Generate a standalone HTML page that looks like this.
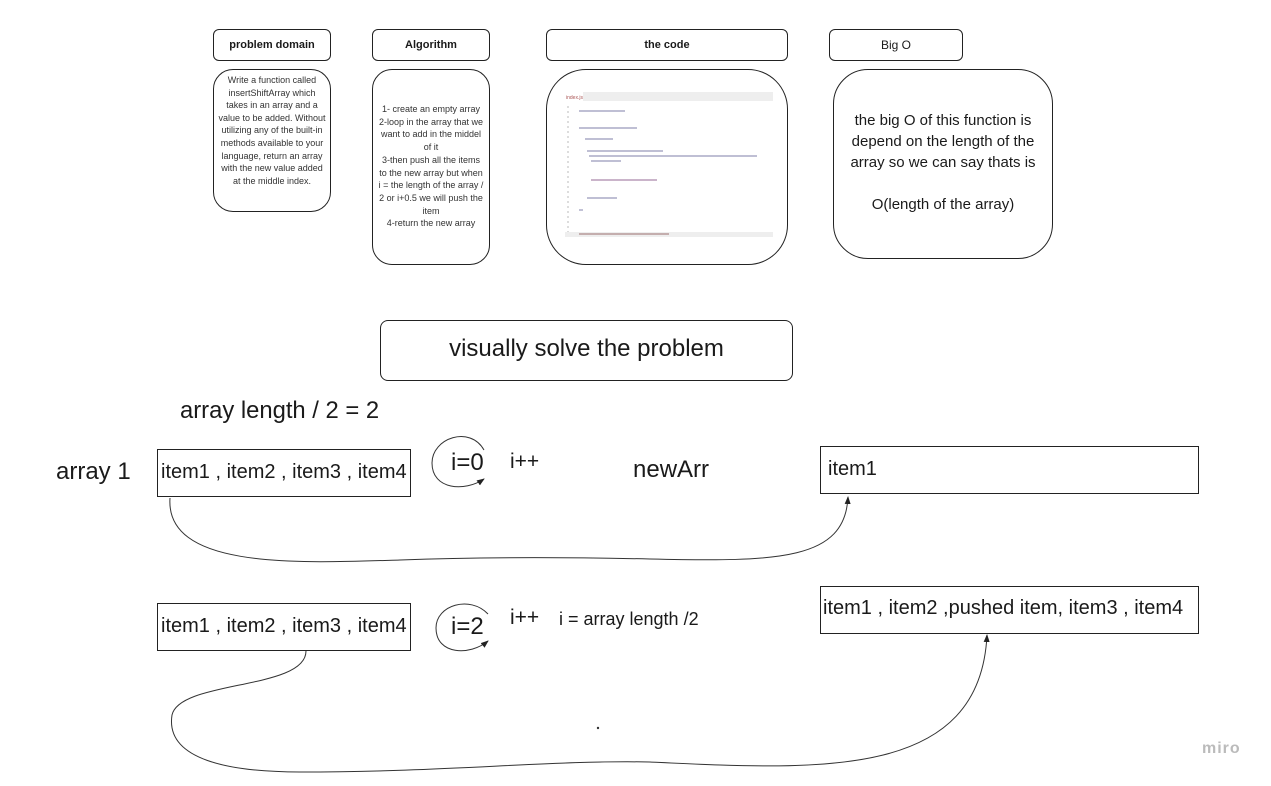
<!DOCTYPE html>
<html><head><meta charset="utf-8"><style>
body{margin:0;width:1271px;height:786px;background:#fff;position:relative;overflow:hidden;font-family:"Liberation Sans",sans-serif;color:#1a1a1a}
.a{position:absolute;box-sizing:border-box}
.b{border:1.3px solid #222;background:#fff}
.h{display:flex;align-items:center;justify-content:center;font-size:11px;font-weight:bold;border-radius:6px}
.t{position:absolute;white-space:nowrap}
.c{text-align:center}
.it{font-size:20px;line-height:44px;white-space:nowrap}
</style></head><body>
<div class="a b h" style="left:213px;top:29px;width:118px;height:32px">problem domain</div>
<div class="a b h" style="left:372px;top:29px;width:118px;height:32px">Algorithm</div>
<div class="a b h" style="left:546px;top:29px;width:242px;height:32px">the code</div>
<div class="a b h" style="left:829px;top:29px;width:134px;height:32px;font-weight:normal;font-size:12px">Big O</div>

<div class="a b c" style="left:213px;top:69px;width:118px;height:143px;border-radius:20px;font-size:9px;line-height:12.6px;padding:4px 4px 0;color:#333">Write a function called insertShiftArray which takes in an array and a value to be added. Without utilizing any of the built-in methods available to your language, return an array with the new value added at the middle index.</div>
<div class="a b c" style="left:372px;top:69px;width:118px;height:196px;border-radius:20px;font-size:9px;line-height:12.7px;padding:33px 4px 0;color:#333">1- create an empty array<br>2-loop in the array that we want to add in the middel of it<br>3-then push all the items to the new array but when i = the length of the array / 2 or i+0.5 we will push the item<br>4-return the new array</div>
<div class="a b" style="left:546px;top:69px;width:242px;height:196px;border-radius:40px"></div>
<svg class="a" style="left:565px;top:92px" width="208" height="146">
<rect x="0" y="0" width="208" height="146" fill="#fff"/>
<rect x="18" y="0" width="190" height="9" fill="#eee"/>
<text x="1" y="7" font-size="5" fill="#a55">index.js</text>
<g stroke-width="1.2" stroke="#99b">
<line x1="14" y1="19" x2="60" y2="19"/>
<line x1="14" y1="36" x2="72" y2="36"/>
<line x1="20" y1="47" x2="48" y2="47"/>
<line x1="22" y1="59" x2="98" y2="59"/>
<line x1="24" y1="64" x2="192" y2="64"/>
<line x1="26" y1="69" x2="56" y2="69"/>
<line x1="26" y1="88" x2="92" y2="88" stroke="#a8a"/>
<line x1="22" y1="106" x2="52" y2="106"/>
<line x1="14" y1="118" x2="18" y2="118"/>
</g>
<g stroke="#bbb" stroke-width="1"><line x1="3" y1="14" x2="3" y2="140" stroke-dasharray="2 3"/></g>
<rect x="0" y="140" width="208" height="5" fill="#eee"/>
<line x1="14" y1="142" x2="104" y2="142" stroke="#a88" stroke-width="1.2"/>
</svg>
<div class="a b c" style="left:833px;top:69px;width:220px;height:190px;border-radius:35px;font-size:15px;line-height:21px;padding:40px 10px 0">the big O of this function is depend on the length of the array so we can say thats is<br><br>O(length of the array)</div>

<div class="a b c" style="left:380px;top:320px;width:413px;height:61px;border-radius:8px;font-size:24px;line-height:56px">visually solve the problem</div>
<div class="t" style="left:180px;top:397px;font-size:23.8px">array length / 2 = 2</div>
<div class="t" style="left:56px;top:458px;font-size:24px">array 1</div>

<div class="a b it" style="left:157px;top:449px;width:254px;height:48px;padding-left:3px">item1 , item2 , item3 , item4</div>
<div class="a b it" style="left:157px;top:603px;width:254px;height:48px;padding-left:3px">item1 , item2 , item3 , item4</div>
<div class="a b it" style="left:820px;top:446px;width:379px;height:48px;padding-left:7px">item1</div>
<div class="a b it" style="left:820px;top:586px;width:379px;height:48px;padding-left:2px;line-height:42px">item1 , item2 ,pushed item, item3 , item4</div>

<div class="t" style="left:451px;top:449px;font-size:24px">i=0</div>
<div class="t" style="left:451px;top:613px;font-size:24px">i=2</div>
<div class="t" style="left:510px;top:450px;font-size:21px">i++</div>
<div class="t" style="left:510px;top:606px;font-size:21px">i++</div>
<div class="t" style="left:559px;top:609px;font-size:18px">i = array length /2</div>
<div class="t" style="left:633px;top:456px;font-size:24px">newArr</div>
<div class="t" style="left:1202px;top:740px;font-size:16px;color:#bbb;font-weight:bold;letter-spacing:1px">miro</div>

<svg class="a" style="left:0;top:0" width="1271" height="786" fill="none" stroke="#333" stroke-width="1">
<defs><marker id="m" markerWidth="8" markerHeight="8" refX="7" refY="4" orient="auto"><path d="M0,1 L8,4 L0,7z" fill="#222" stroke="none"/></marker></defs>
<path d="M484,450 C470,425 432,438 432,463 C432,490 465,492 484,479" marker-end="url(#m)"/>
<path d="M488,614 C470,595 436,605 436,628 C436,655 470,656 488,641" marker-end="url(#m)"/>
<path d="M170,498 C165,570 300,563 400,560 C480,557 560,557 650,559 C780,562 845,560 848,497" marker-end="url(#m)"/>
<path d="M306,651 C306,690 180,680 172,715 C165,760 230,772 300,772 C450,772 550,760 650,762 C820,770 980,780 987,635" marker-end="url(#m)"/>
<circle cx="598" cy="728" r="0.7" fill="#333"/>
</svg>
</body></html>
